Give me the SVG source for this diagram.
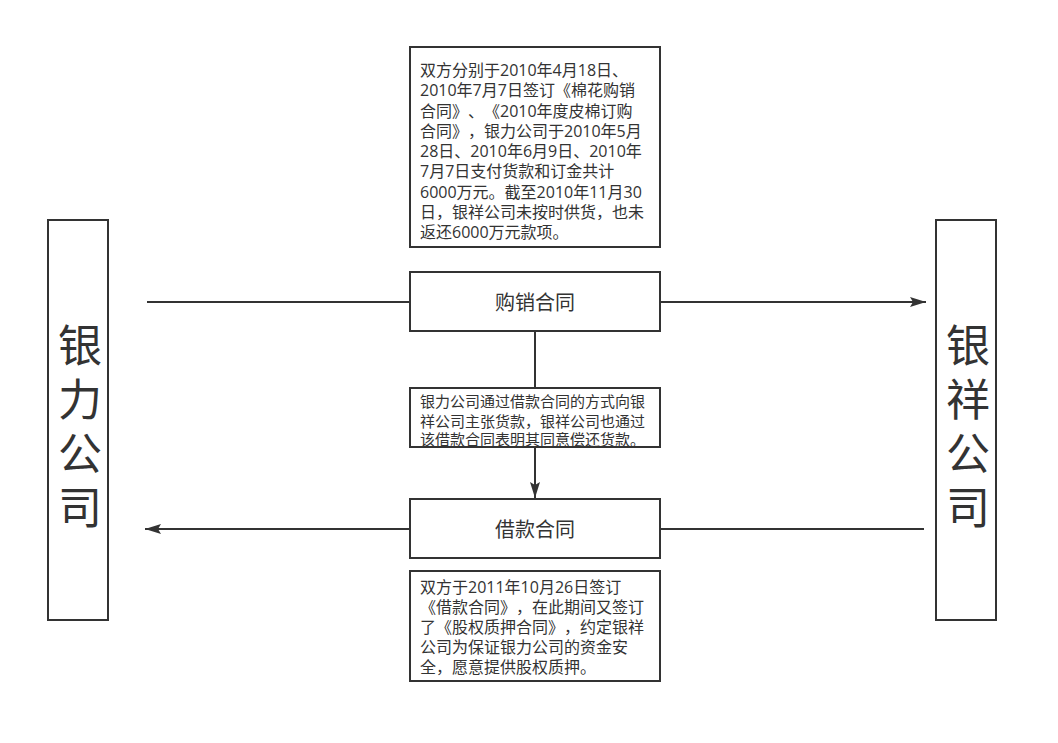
<svg xmlns="http://www.w3.org/2000/svg" width="1058" height="743" viewBox="0 0 1058 743">
<style>
.box{fill:#fff;stroke:#333;stroke-width:2}
.t{font-family:"Open Sans","Noto Sans CJK SC",sans-serif;fill:#333;text-spacing-trim:space-all}
.p{font-size:16px}
.m{font-size:15px}
.big{font-size:44px;text-anchor:middle;writing-mode:vertical-rl;letter-spacing:10px}
.lbl{font-size:20px;text-anchor:middle;dominant-baseline:central}
.ln{stroke:#333;stroke-width:2;fill:none}
</style>
<defs>
<marker id="ah2" viewBox="0 0 16 10" refX="16" refY="5" markerWidth="16" markerHeight="10" markerUnits="userSpaceOnUse" orient="auto">
<path d="M0,0 L16,5 L0,10 L3,5 Z" fill="#333"/>
</marker>
</defs>
<rect width="1058" height="743" fill="#fff"/>
<g id="connectors">
<line class="ln" x1="147" y1="302" x2="410" y2="302"/>
<line class="ln" x1="660" y1="302" x2="926" y2="302" marker-end="url(#ah2)"/>
<line class="ln" x1="535" y1="331" x2="535" y2="388"/>
<line class="ln" x1="535" y1="447" x2="535" y2="498" marker-end="url(#ah2)"/>
<line class="ln" x1="924" y1="529" x2="660" y2="529"/>
<line class="ln" x1="410" y1="529" x2="145" y2="529" marker-end="url(#ah2)"/>
</g>
<g id="yinli">
<rect class="box" x="48" y="220" width="60" height="400"/>
<text class="t big" x="78" y="431">银力公司</text>
</g>
<g id="yinxiang">
<rect class="box" x="936" y="220" width="60" height="400"/>
<text class="t big" x="966" y="431">银祥公司</text>
</g>
<g id="note1">
<rect class="box" x="410" y="47" width="250" height="200"/>
<text class="t p" x="420">
<tspan x="420" y="76">双方分别于2010年4月18日、</tspan>
<tspan x="420" y="96.25">2010年7月7日签订《棉花购销</tspan>
<tspan x="420" y="116.5">合同》、《2010年度皮棉订购</tspan>
<tspan x="420" y="136.75">合同》，银力公司于2010年5月</tspan>
<tspan x="420" y="157">28日、2010年6月9日、2010年</tspan>
<tspan x="420" y="177.25">7月7日支付货款和订金共计</tspan>
<tspan x="420" y="197.5">6000万元。截至2010年11月30</tspan>
<tspan x="420" y="217.75">日，银祥公司未按时供货，也未</tspan>
<tspan x="420" y="238">返还6000万元款项。</tspan>
</text>
</g>
<g id="gouxiao">
<rect class="box" x="410" y="272" width="250" height="59"/>
<text class="t lbl" x="535" y="302">购销合同</text>
</g>
<g id="note2">
<rect class="box" x="410" y="388" width="250" height="59"/>
<text class="t m" x="420">
<tspan x="420" y="407">银力公司通过借款合同的方式向银</tspan>
<tspan x="420" y="426.5">祥公司主张货款，银祥公司也通过</tspan>
<tspan x="420" y="445">该借款合同表明其同意偿还货款。</tspan>
</text>
</g>
<g id="jiekuan">
<rect class="box" x="410" y="499" width="250" height="59"/>
<text class="t lbl" x="535" y="529">借款合同</text>
</g>
<g id="note3">
<rect class="box" x="410" y="571" width="250" height="110"/>
<text class="t p" x="420">
<tspan x="420" y="592.5">双方于2011年10月26日签订</tspan>
<tspan x="420" y="612.5">《借款合同》，在此期间又签订</tspan>
<tspan x="420" y="632.5">了《股权质押合同》，约定银祥</tspan>
<tspan x="420" y="652.5">公司为保证银力公司的资金安</tspan>
<tspan x="420" y="672.5">全，愿意提供股权质押。</tspan>
</text>
</g>
</svg>
